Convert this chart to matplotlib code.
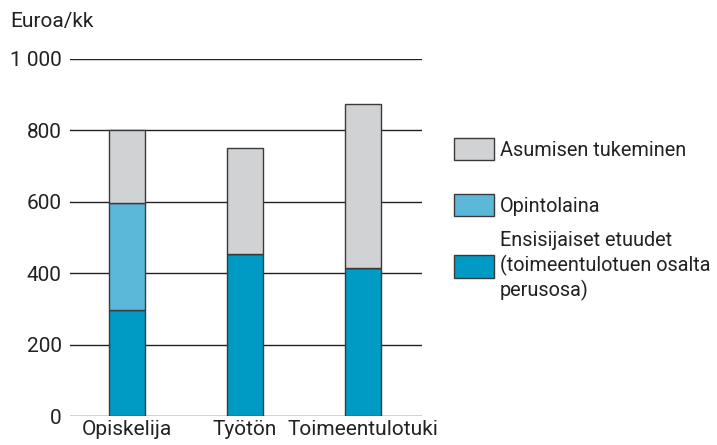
import matplotlib.pyplot as plt
from matplotlib.patches import Patch

categories = ['Opiskelija', 'Työtön', 'Toimeentulotuki']
perus = [298, 454, 415]
laina = [300, 0, 0]
asuminen = [202, 297, 459]
yticks = [0, 200, 400, 600, 800, 1000]
ytick_labels = ['0', '200', '400', '600', '800', '1 000']

c_perus = '#009bc4'
c_laina = '#5bb8d9'
c_asum = '#d1d2d4'
edge = '#3a3a3a'

plt.rcParams['font.family'] = ['Roboto', 'DejaVu Sans']
plt.rcParams['font.size'] = 15

fig = plt.figure(figsize=(7.17, 4.45), dpi=100)
ax = fig.add_axes([70 / 717, 29 / 445, 352 / 717, 357 / 445])

x = range(len(categories))
w = 0.305
ax.bar(x, perus, w, color=c_perus, edgecolor=edge, linewidth=1, zorder=3)
ax.bar(x, laina, w, bottom=perus, color=c_laina, edgecolor=edge, linewidth=1, zorder=3)
bottom3 = [a + b for a, b in zip(perus, laina)]
ax.bar(x, asuminen, w, bottom=bottom3, color=c_asum, edgecolor=edge, linewidth=1, zorder=3)

ax.set_xlim(-0.483, 2.5)
ax.set_ylim(0, 1000)
ax.set_yticks(yticks)
ax.set_yticklabels(ytick_labels)
ax.set_xticks(list(x))
ax.set_xticklabels(categories)
ax.yaxis.grid(True, color='#222222', linewidth=1, zorder=0)
ax.tick_params(length=0, pad=6, colors='#222222')
ax.tick_params(axis='x', pad=3)
for s in ax.spines.values():
    s.set_visible(False)

fig.text(10 / 717, 1 - 22 / 445, 'Euroa/kk', ha='left', va='center', color='#222222')

# legend: one entry per box so the uneven spacing of the original can be kept
entries = [
    (c_asum, 'Asumisen tukeminen', 149),
    (c_laina, 'Opintolaina', 205),
    (c_perus, 'Ensisijaiset etuudet\n(toimeentulotuen osalta\nperusosa)', 266),
]
for col, lab, yc in entries:
    leg = fig.legend([Patch(facecolor=col, edgecolor=edge)], [lab], loc='center left',
                     bbox_to_anchor=(450 / 717, 1 - yc / 445), frameon=False,
                     handlelength=2.0, handleheight=1.4, handletextpad=0.3,
                     borderpad=0.2, borderaxespad=0, labelcolor='#222222',
                     fontsize=14.3)
    for t in leg.get_texts():
        t.set_linespacing(1.3)

fig.savefig('out.png', dpi=100)
